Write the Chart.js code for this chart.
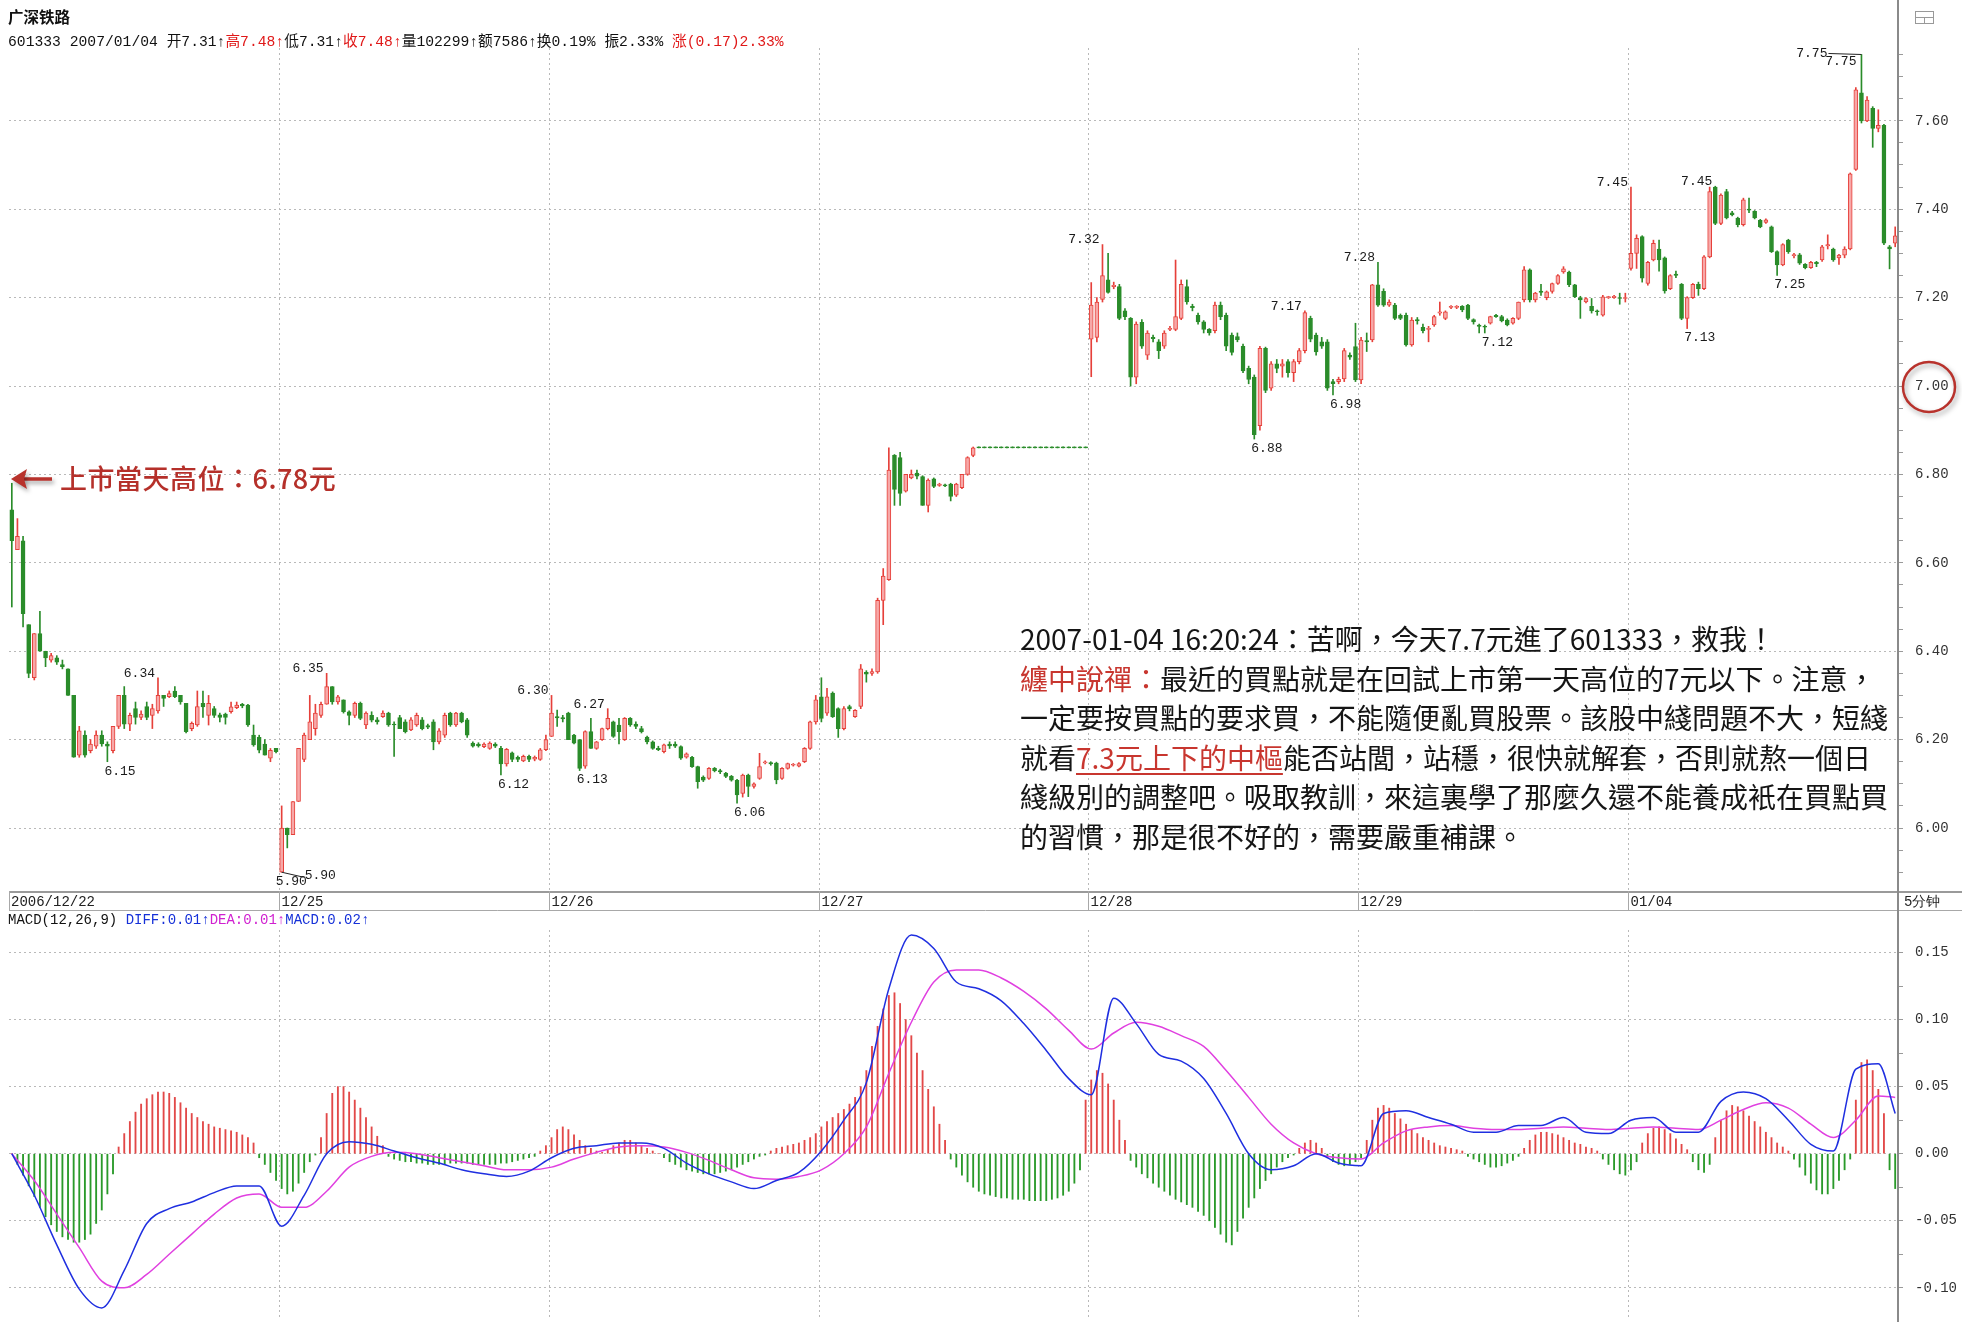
<!DOCTYPE html>
<html><head><meta charset="utf-8">
<script src="https://cdn.jsdelivr.net/npm/chart.js@4.4.0/dist/chart.umd.min.js"></script>
<style>
html,body{margin:0;padding:0;background:#fff;width:1962px;height:1322px;overflow:hidden;position:relative;}
canvas{position:absolute;left:0;}
#main{top:0;}
#macd{top:911px;}
.abs{position:absolute;white-space:nowrap;}
#hdr1{left:8px;top:5px;font:bold 15.5px "Noto Sans CJK SC";color:#111;}
#hdr2{left:8px;top:29px;font:14.7px "Liberation Mono","Noto Sans CJK SC",monospace;color:#111;}
#macdLeg{left:8px;top:912px;font:14px "Liberation Mono","Noto Sans CJK SC",monospace;color:#111;}
.r{color:#e01818;}
.b{color:#1530d8;}
.m{color:#d020d0;}
#listHigh{left:60px;top:458px;font:500 27px "Noto Sans CJK TC";color:#b5302a;letter-spacing:0.5px;}
#note{left:1020px;top:619px;font:28px "Noto Sans CJK TC";line-height:39.6px;color:#151515;}
.nr{color:#c8362f;}
.nu{color:#c8362f;text-decoration:underline;text-underline-offset:4px;}
</style></head>
<body>
<canvas id="main" width="1962" height="911"></canvas>
<canvas id="macd" width="1962" height="411"></canvas>
<div id="hdr1" class="abs">广深铁路</div>
<div id="hdr2" class="abs">601333 2007/01/04 开7.31↑<span class="r">高7.48↑</span>低7.31↑<span class="r">收7.48↑</span>量102299↑额7586↑换0.19% 振2.33% <span class="r">涨(0.17)2.33%</span></div>
<div id="macdLeg" class="abs">MACD(12,26,9) <span class="b">DIFF:0.01↑</span><span class="m">DEA:0.01↑</span><span class="b">MACD:0.02↑</span></div>
<div id="listHigh" class="abs">上市當天高位：6.78元</div>
<div id="note" class="abs">
<div>2007-01-04 16:20:24：苦啊，今天7.7元進了601333，救我！</div>
<div><span class="nr">纏中說禪：</span>最近的買點就是在回試上市第一天高位的7元以下。注意，</div>
<div>一定要按買點的要求買，不能隨便亂買股票。該股中綫問題不大，短綫</div>
<div>就看<span class="nu">7.3元上下的中樞</span>能否站閭，站穩，很快就解套，否則就熬一個日</div>
<div>綫級別的調整吧。吸取教訓，來這裏學了那麼久還不能養成衹在買點買</div>
<div>的習慣，那是很不好的，需要嚴重補課。</div>
</div>
<script>
// ---------------- data ----------------
const dayLabels = ['2006/12/22','12/25','12/26','12/27','12/28','12/29','01/04'];
const barsPerDay = 48;
const priceTicks = [5.90,5.95,6.00,6.05,6.10,6.15,6.20,6.25,6.30,6.35,6.40,6.45,6.50,6.55,6.60,6.65,6.70,6.75,6.80,6.85,6.90,6.95,7.00,7.05,7.10,7.15,7.20,7.25,7.30,7.35,7.40,7.45,7.50,7.55,7.60,7.65,7.70,7.75];
const macdTicks = [-0.10,-0.075,-0.05,-0.025,0.00,0.025,0.05,0.075,0.10,0.125,0.15];

const opens = [
6.72,6.63,6.65,6.46,6.34,6.44,6.40,6.38,6.385,6.37,6.36,6.30,6.165,6.21,6.175,6.185,6.21,6.19,6.175,6.23,6.30,6.235,6.27,6.25,6.275,6.255,6.265,6.30,6.297,6.31,6.30,6.282,6.225,6.233,6.282,6.255,6.27,6.256,6.258,6.263,6.272,6.28,6.278,6.21,6.205,6.19,6.158,6.18,
5.90,6.00,5.985,6.06,6.155,6.20,6.225,6.255,6.28,6.32,6.285,6.29,6.263,6.255,6.282,6.233,6.255,6.245,6.252,6.26,6.235,6.25,6.24,6.222,6.233,6.245,6.232,6.24,6.195,6.21,6.26,6.233,6.26,6.245,6.192,6.19,6.184,6.18,6.19,6.18,6.145,6.17,6.16,6.152,6.162,6.156,6.155,6.177,
6.207,6.252,6.25,6.26,6.21,6.20,6.14,6.218,6.18,6.20,6.225,6.24,6.233,6.20,6.248,6.235,6.225,6.206,6.195,6.18,6.173,6.19,6.19,6.184,6.16,6.16,6.139,6.115,6.112,6.135,6.13,6.124,6.117,6.108,6.078,6.12,6.094,6.112,6.147,6.148,6.147,6.112,6.135,6.142,6.14,6.15,6.18,6.24,
6.297,6.26,6.305,6.27,6.225,6.275,6.252,6.275,6.352,6.35,6.353,6.515,6.562,6.843,6.838,6.762,6.792,6.803,6.795,6.73,6.79,6.775,6.776,6.778,6.753,6.77,6.80,6.843,6.86,6.86,6.86,6.86,6.86,6.86,6.86,6.86,6.86,6.86,6.86,6.86,6.86,6.86,6.86,6.86,6.86,6.86,6.86,6.86,
7.106,7.11,7.196,7.24,7.225,7.225,7.17,7.153,7.02,7.144,7.07,7.11,7.10,7.09,7.128,7.128,7.153,7.225,7.18,7.16,7.145,7.128,7.125,7.183,7.16,7.115,7.112,7.09,7.04,7.02,6.91,7.085,6.995,7.05,7.045,7.055,7.03,7.055,7.08,7.153,7.115,7.10,7.10,7.01,7.01,7.016,7.07,7.089,
7.014,7.103,7.104,7.229,7.214,7.183,7.183,7.16,7.16,7.093,7.15,7.133,7.128,7.138,7.165,7.153,7.178,7.178,7.18,7.183,7.15,7.138,7.135,7.142,7.16,7.157,7.149,7.142,7.153,7.195,7.263,7.195,7.215,7.20,7.214,7.232,7.258,7.258,7.229,7.20,7.19,7.18,7.17,7.16,7.2,7.2,7.2,7.198,
7.266,7.30,7.338,7.232,7.285,7.31,7.29,7.22,7.253,7.23,7.153,7.20,7.23,7.22,7.292,7.45,7.368,7.44,7.392,7.38,7.365,7.40,7.395,7.375,7.37,7.36,7.304,7.274,7.33,7.295,7.297,7.275,7.268,7.28,7.285,7.317,7.31,7.29,7.296,7.31,7.49,7.663,7.60,7.628,7.583,7.59,7.315,7.323];
const highs = [
6.78,6.70,6.66,6.46,6.44,6.49,6.40,6.395,6.39,6.38,6.36,6.30,6.23,6.22,6.20,6.22,6.22,6.195,6.23,6.30,6.32,6.26,6.285,6.265,6.285,6.28,6.34,6.30,6.31,6.32,6.30,6.282,6.24,6.31,6.31,6.30,6.275,6.26,6.26,6.285,6.285,6.282,6.28,6.233,6.21,6.20,6.18,6.18,
6.05,6.00,6.06,6.18,6.215,6.30,6.28,6.285,6.35,6.32,6.30,6.29,6.265,6.285,6.285,6.263,6.263,6.25,6.265,6.262,6.24,6.255,6.245,6.25,6.26,6.25,6.235,6.245,6.225,6.26,6.262,6.262,6.262,6.248,6.195,6.193,6.193,6.195,6.193,6.185,6.18,6.172,6.163,6.165,6.165,6.163,6.18,6.21,
6.30,6.267,6.255,6.262,6.212,6.20,6.22,6.248,6.196,6.226,6.27,6.242,6.248,6.25,6.25,6.24,6.23,6.208,6.197,6.185,6.19,6.195,6.195,6.186,6.17,6.162,6.14,6.118,6.137,6.137,6.133,6.126,6.119,6.11,6.122,6.122,6.102,6.169,6.152,6.15,6.149,6.137,6.147,6.146,6.148,6.182,6.242,6.30,
6.34,6.316,6.308,6.272,6.275,6.278,6.268,6.37,6.356,6.36,6.52,6.587,6.86,6.845,6.85,6.80,6.81,6.81,6.797,6.79,6.792,6.78,6.778,6.78,6.78,6.80,6.84,6.862,6.86,6.86,6.86,6.86,6.86,6.86,6.86,6.86,6.86,6.86,6.86,6.86,6.86,6.86,6.86,6.86,6.86,6.86,6.86,6.86,
7.234,7.20,7.32,7.30,7.235,7.23,7.175,7.155,7.145,7.15,7.125,7.115,7.105,7.125,7.135,7.285,7.24,7.24,7.185,7.165,7.148,7.13,7.19,7.19,7.165,7.12,7.12,7.095,7.045,7.025,7.09,7.088,7.055,7.06,7.06,7.06,7.06,7.085,7.17,7.158,7.12,7.11,7.105,7.015,7.02,7.085,7.075,7.142,
7.11,7.12,7.23,7.28,7.22,7.195,7.187,7.163,7.165,7.155,7.155,7.14,7.135,7.16,7.19,7.17,7.182,7.182,7.182,7.185,7.152,7.14,7.138,7.158,7.162,7.16,7.152,7.155,7.19,7.27,7.265,7.212,7.23,7.215,7.233,7.252,7.27,7.26,7.23,7.203,7.2,7.198,7.172,7.205,7.203,7.205,7.21,7.21,
7.45,7.342,7.34,7.282,7.33,7.33,7.292,7.252,7.26,7.232,7.202,7.232,7.235,7.295,7.45,7.452,7.435,7.445,7.395,7.382,7.425,7.425,7.397,7.377,7.378,7.362,7.306,7.322,7.332,7.30,7.30,7.277,7.282,7.282,7.318,7.342,7.312,7.298,7.315,7.482,7.675,7.75,7.655,7.632,7.625,7.592,7.318,7.36];
const lows = [
6.50,6.63,6.455,6.34,6.335,6.40,6.365,6.375,6.37,6.36,6.30,6.16,6.16,6.16,6.17,6.18,6.185,6.15,6.17,6.225,6.225,6.22,6.235,6.245,6.245,6.225,6.26,6.275,6.295,6.295,6.28,6.215,6.22,6.23,6.25,6.233,6.25,6.24,6.235,6.26,6.27,6.272,6.23,6.185,6.17,6.165,6.15,6.17,
5.90,5.955,5.985,6.06,6.15,6.20,6.21,6.25,6.28,6.28,6.28,6.26,6.233,6.25,6.245,6.225,6.24,6.235,6.25,6.23,6.162,6.225,6.215,6.22,6.23,6.222,6.225,6.177,6.19,6.205,6.23,6.23,6.238,6.205,6.183,6.183,6.182,6.178,6.182,6.12,6.14,6.15,6.15,6.15,6.15,6.152,6.153,6.175,
6.207,6.23,6.24,6.20,6.19,6.13,6.135,6.18,6.178,6.198,6.222,6.205,6.19,6.198,6.23,6.225,6.215,6.19,6.178,6.175,6.17,6.18,6.182,6.155,6.158,6.137,6.09,6.105,6.11,6.127,6.123,6.114,6.106,6.056,6.07,6.071,6.09,6.11,6.145,6.142,6.10,6.11,6.133,6.14,6.138,6.148,6.178,6.235,
6.24,6.255,6.25,6.205,6.222,6.265,6.25,6.27,6.33,6.345,6.35,6.46,6.56,6.73,6.73,6.76,6.79,6.79,6.73,6.715,6.77,6.773,6.772,6.74,6.75,6.768,6.798,6.84,6.86,6.86,6.86,6.86,6.86,6.86,6.86,6.86,6.86,6.86,6.86,6.86,6.86,6.86,6.86,6.86,6.86,6.86,6.86,6.86,
7.021,7.10,7.19,7.21,7.22,7.15,7.15,7.00,7.005,7.085,7.06,7.10,7.062,7.085,7.125,7.125,7.15,7.185,7.17,7.14,7.12,7.115,7.12,7.15,7.08,7.07,7.10,7.03,7.005,6.88,6.90,6.985,6.99,7.03,7.02,7.02,7.01,7.05,7.075,7.10,7.07,7.085,6.99,6.98,7.005,7.01,7.06,7.01,
7.005,7.078,7.10,7.18,7.18,7.18,7.15,7.15,7.09,7.09,7.14,7.12,7.10,7.135,7.16,7.15,7.175,7.175,7.168,7.15,7.14,7.12,7.12,7.14,7.155,7.145,7.136,7.14,7.15,7.19,7.19,7.19,7.205,7.195,7.21,7.23,7.255,7.225,7.20,7.153,7.188,7.165,7.16,7.158,7.198,7.198,7.185,7.19,
7.262,7.266,7.235,7.228,7.283,7.26,7.21,7.218,7.245,7.15,7.13,7.198,7.205,7.218,7.29,7.365,7.365,7.378,7.385,7.36,7.362,7.392,7.378,7.358,7.368,7.302,7.25,7.272,7.30,7.29,7.275,7.265,7.266,7.27,7.282,7.31,7.282,7.275,7.29,7.308,7.488,7.595,7.598,7.54,7.575,7.32,7.265,7.315];
const closes = [
6.65,6.66,6.485,6.35,6.44,6.40,6.385,6.39,6.375,6.365,6.30,6.16,6.22,6.165,6.19,6.21,6.19,6.185,6.23,6.30,6.235,6.255,6.25,6.258,6.25,6.27,6.30,6.293,6.304,6.297,6.285,6.218,6.237,6.275,6.274,6.282,6.255,6.25,6.25,6.274,6.278,6.276,6.233,6.188,6.176,6.165,6.176,6.173,
6.00,5.985,6.06,6.18,6.21,6.24,6.26,6.28,6.32,6.285,6.297,6.263,6.255,6.282,6.248,6.26,6.244,6.24,6.26,6.233,6.233,6.225,6.218,6.245,6.255,6.225,6.228,6.195,6.22,6.255,6.233,6.26,6.24,6.21,6.185,6.186,6.19,6.192,6.185,6.145,6.178,6.155,6.155,6.162,6.155,6.16,6.177,6.20,
6.26,6.249,6.247,6.20,6.192,6.135,6.218,6.18,6.195,6.225,6.248,6.207,6.218,6.248,6.233,6.23,6.218,6.195,6.18,6.177,6.188,6.186,6.185,6.158,6.168,6.139,6.105,6.108,6.135,6.13,6.127,6.117,6.108,6.075,6.12,6.094,6.10,6.139,6.15,6.145,6.109,6.135,6.146,6.144,6.146,6.18,6.24,6.29,
6.248,6.297,6.252,6.225,6.27,6.27,6.266,6.36,6.348,6.354,6.515,6.57,6.81,6.766,6.757,6.80,6.80,6.796,6.73,6.787,6.773,6.778,6.774,6.75,6.778,6.80,6.838,6.86,6.86,6.86,6.86,6.86,6.86,6.86,6.86,6.86,6.86,6.86,6.86,6.86,6.86,6.86,6.86,6.86,6.86,6.86,6.86,6.86,
7.183,7.19,7.25,7.212,7.228,7.153,7.157,7.02,7.14,7.09,7.12,7.107,7.08,7.12,7.13,7.157,7.23,7.19,7.177,7.145,7.128,7.12,7.183,7.157,7.09,7.076,7.105,7.034,7.015,6.89,7.085,6.99,7.05,7.04,7.05,7.03,7.055,7.08,7.166,7.106,7.077,7.09,6.995,7.005,7.015,7.08,7.065,7.014,
7.104,7.10,7.229,7.183,7.183,7.19,7.153,7.153,7.093,7.149,7.147,7.125,7.13,7.157,7.168,7.168,7.18,7.18,7.172,7.153,7.145,7.135,7.133,7.157,7.157,7.147,7.138,7.153,7.19,7.263,7.195,7.21,7.212,7.213,7.232,7.25,7.265,7.229,7.202,7.195,7.198,7.17,7.168,7.202,7.2,7.203,7.198,7.2,
7.30,7.334,7.244,7.28,7.323,7.285,7.215,7.25,7.25,7.153,7.20,7.23,7.22,7.292,7.44,7.368,7.432,7.38,7.387,7.365,7.421,7.398,7.38,7.36,7.376,7.304,7.274,7.32,7.304,7.297,7.278,7.268,7.28,7.277,7.315,7.32,7.285,7.296,7.31,7.48,7.67,7.60,7.647,7.583,7.59,7.323,7.31,7.34];

const macdHist = [
0,-0.008,-0.016,-0.024,-0.032,-0.040,-0.047,-0.053,-0.058,-0.062,-0.064,-0.066,-0.066,-0.064,-0.060,-0.052,-0.042,-0.030,-0.015,
0.005,0.015,0.024,0.031,0.037,0.041,0.044,0.046,0.046,0.045,0.042,0.038,0.034,0.030,0.027,0.024,0.022,0.020,0.019,0.018,0.017,0.016,0.014,0.012,0.008,
-0.003,-0.008,-0.014,-0.020,-0.026,-0.030,-0.028,-0.022,-0.014,-0.006,-0.001,
0.012,0.030,0.045,0.050,0.050,0.046,0.040,0.034,0.027,0.020,0.013,0.006,
-0.002,-0.004,-0.005,-0.006,-0.006,-0.007,-0.007,-0.008,-0.008,-0.008,-0.008,-0.007,-0.007,-0.007,-0.007,-0.008,-0.008,-0.008,-0.008,-0.008,-0.007,-0.007,-0.006,-0.005,-0.004,-0.003,-0.002,0.002,0.006,
0.012,0.018,0.020,0.018,0.014,0.010,0.006,0.004,0.002,0.001,
0.003,0.006,0.008,0.010,0.010,0.008,0.006,0.004,0.002,0.000,
-0.003,-0.006,-0.008,-0.010,-0.012,-0.013,-0.014,-0.015,-0.015,-0.015,-0.014,-0.013,-0.012,-0.010,-0.008,-0.006,-0.004,-0.002,-0.001,
0.002,0.004,0.005,0.006,0.007,0.008,0.010,0.012,0.015,0.020,0.024,0.027,0.030,0.033,0.037,0.042,0.050,0.062,0.080,0.095,0.108,0.118,0.120,0.112,0.100,0.088,0.075,0.062,0.048,0.035,0.022,0.010,
-0.004,-0.010,-0.016,-0.021,-0.025,-0.028,-0.030,-0.031,-0.032,-0.033,-0.033,-0.034,-0.034,-0.034,-0.035,-0.035,-0.035,-0.035,-0.034,-0.033,-0.031,-0.028,-0.022,-0.012,
0.040,0.055,0.062,0.060,0.052,0.040,0.025,0.010,
-0.005,-0.010,-0.015,-0.018,-0.022,-0.025,-0.028,-0.031,-0.034,-0.036,-0.038,-0.040,-0.043,-0.046,-0.050,-0.055,-0.060,-0.066,-0.068,-0.058,-0.048,-0.040,-0.033,-0.026,-0.020,-0.015,-0.010,-0.006,-0.003,-0.001,
0.004,0.008,0.010,0.008,0.004,
-0.003,-0.006,-0.008,-0.009,-0.008,-0.006,-0.003,
0.010,0.025,0.034,0.036,0.034,0.030,0.026,0.022,0.018,0.015,0.012,0.010,0.008,0.006,0.005,0.004,0.003,0.002,
-0.002,-0.004,-0.006,-0.008,-0.010,-0.010,-0.009,-0.007,-0.005,-0.002,
0.004,0.010,0.014,0.016,0.016,0.015,0.014,0.012,0.010,0.008,0.007,0.005,0.004,0.002,
-0.004,-0.008,-0.012,-0.015,-0.016,-0.012,-0.006,
0.008,0.015,0.019,0.020,0.018,0.015,0.011,0.007,0.003,
-0.006,-0.012,-0.014,-0.008,
0.012,0.025,0.032,0.036,0.035,0.032,0.028,0.024,0.020,0.016,0.012,0.008,0.005,0.002,
-0.004,-0.010,-0.016,-0.022,-0.027,-0.030,-0.030,-0.026,-0.020,-0.012,-0.004,
0.040,0.068,0.070,0.062,0.048,0.030,
-0.012,-0.026];

const lineIdx = [0,4,8,12,16,20,24,28,32,36,40,44,48,52,56,60,64,68,72,76,80,84,88,92,96,100,104,108,112,116,120,124,128,132,136,140,144,148,152,156,160,164,168,172,176,180,184,188,192,196,200,204,208,212,216,220,224,228,232,236,240,244,248,252,256,260,264,268,272,276,280,284,288,292,296,300,304,308,312,316,320,324,328,332,335];
const diffVals = [
0.000,-0.031,-0.068,-0.101,-0.115,-0.087,-0.052,-0.041,-0.036,-0.029,
-0.024,-0.024,-0.054,-0.031,0.000,0.009,0.007,0.002,-0.003,-0.007,
-0.012,-0.015,-0.017,-0.013,-0.003,0.004,0.006,0.008,0.008,0.004,
-0.007,-0.015,-0.021,-0.026,-0.020,-0.014,0.002,0.025,0.053,0.123,
0.163,0.153,0.128,0.123,0.114,0.097,0.077,0.056,0.044,0.116,
0.097,0.074,0.069,0.056,0.030,0.000,-0.012,-0.009,0.000,-0.007,
-0.009,0.030,0.032,0.027,0.022,0.016,0.016,0.021,0.021,0.027,
0.016,0.015,0.025,0.027,0.016,0.016,0.039,0.046,0.041,0.025,
0.007,0.002,0.063,0.067,0.030];
const deaVals = [
0.000,-0.020,-0.045,-0.070,-0.095,-0.100,-0.090,-0.075,-0.060,-0.045,
-0.033,-0.030,-0.040,-0.040,-0.028,-0.010,-0.002,0.001,0.000,-0.003,
-0.006,-0.009,-0.012,-0.012,-0.010,-0.004,0.001,0.005,0.006,0.005,
0.001,-0.005,-0.012,-0.018,-0.019,-0.017,-0.012,0.000,0.020,0.060,
0.098,0.128,0.137,0.137,0.131,0.121,0.108,0.092,0.078,0.090,
0.098,0.095,0.088,0.080,0.062,0.042,0.022,0.008,0.000,-0.003,
-0.004,0.008,0.017,0.020,0.021,0.019,0.018,0.018,0.019,0.020,
0.019,0.018,0.019,0.020,0.019,0.018,0.025,0.033,0.038,0.034,
0.022,0.012,0.025,0.043,0.042];

const highMarks = [26,56,96,106,194,230,243,288,303];
const lowMarks = [17,87,101,129,221,235,262,298,314];
const doubleLowMark = 48;   // 5.90 shown twice
const doubleHighMark = 329; // 7.75 shown twice

// sanity
[opens,highs,lows,closes,macdHist].forEach((a,k)=>{ if(a.length!==336) throw new Error('array '+k+' length '+a.length); });
if (diffVals.length!==lineIdx.length || deaVals.length!==lineIdx.length) throw new Error('line len');

// ---------------- styles ----------------
const UP_FILL='#f7a8a8', UP_LINE='#e6403a', DOWN='#2a8c2a';
const GRID='#b9b9b9', AXIS='#8a8a8a';
const MONO='"Liberation Mono","DejaVu Sans Mono",monospace';
const isUp = i => closes[i] > opens[i] || (closes[i] === opens[i] && highs[i] !== lows[i]);
const isMajorPrice = v => Math.abs(v*5 - Math.round(v*5)) < 1e-6;
const isMajorMacd = v => Math.abs(v*20 - Math.round(v*20)) < 1e-6;
const fmt = v => (Math.abs(v)<1e-9?0:v).toFixed(2);
const fitAxis = s => { s.width = 64; s.paddingTop = 0; s.paddingBottom = 0; };

function dashedV(ctx, x, y1, y2){
  ctx.save(); ctx.strokeStyle=GRID; ctx.lineWidth=1; ctx.setLineDash([2,3]);
  ctx.beginPath(); ctx.moveTo(x,y1); ctx.lineTo(x,y2); ctx.stroke(); ctx.restore();
}
function line(ctx,x1,y1,x2,y2,c,w){ ctx.save(); ctx.strokeStyle=c; ctx.lineWidth=w||1; ctx.beginPath(); ctx.moveTo(x1,y1); ctx.lineTo(x2,y2); ctx.stroke(); ctx.restore(); }

const dayX = (xs, d) => Math.round(xs.getPixelForValue(d*barsPerDay - 0.5)) + 0.5;

const mainDecor = {
  id:'mainDecor',
  beforeDatasetsDraw(chart){
    const {ctx, chartArea:a, scales:{x}} = chart;
    for (let d=1; d<dayLabels.length; d++) dashedV(ctx, dayX(x,d), a.top, a.bottom);
  },
  afterDraw(chart){
    const {ctx, chartArea:a, scales:{x,y}} = chart;
    ctx.save();
    ctx.font = '13px '+MONO; ctx.fillStyle='#1a1a1a';
    highMarks.forEach(i=>{
      ctx.textAlign='right'; ctx.textBaseline='bottom';
      ctx.fillText(highs[i].toFixed(2), x.getPixelForValue(i)-3, y.getPixelForValue(highs[i])+2);
    });
    lowMarks.forEach(i=>{
      ctx.textAlign='left'; ctx.textBaseline='top';
      ctx.fillText(lows[i].toFixed(2), x.getPixelForValue(i)-3, y.getPixelForValue(lows[i])+3);
    });
    { const px=x.getPixelForValue(doubleLowMark), py=y.getPixelForValue(lows[doubleLowMark]);
      line(ctx, px, py, px+22, py+5, '#222', 1);
      ctx.textAlign='left'; ctx.textBaseline='top';
      ctx.fillText(lows[doubleLowMark].toFixed(2), px-6, py+3);
      ctx.fillText(lows[doubleLowMark].toFixed(2), px+23, py-3); }
    { const px=x.getPixelForValue(doubleHighMark), py=y.getPixelForValue(highs[doubleHighMark]);
      line(ctx, px-33, py-1, px, py, '#222', 1);
      ctx.textAlign='right'; ctx.textBaseline='bottom';
      ctx.fillText(highs[doubleHighMark].toFixed(2), px-34, py+6);
      ctx.textBaseline='top';
      ctx.fillText(highs[doubleHighMark].toFixed(2), px-5, py+1); }
    // date row
    line(ctx, a.left, a.bottom+1, 1962, a.bottom+1, '#9a9a9a', 2);
    line(ctx, a.left, 910.5, 1962, 910.5, '#a8a8a8', 1);
    line(ctx, a.left+0.5, a.bottom, a.left+0.5, 911, '#a8a8a8', 1);
    ctx.font='14px '+MONO; ctx.fillStyle='#222'; ctx.textAlign='left'; ctx.textBaseline='middle';
    dayLabels.forEach((lab,d)=>{
      const px = d===0 ? a.left : dayX(x,d);
      if (d>0) line(ctx, px, a.bottom, px, 911, '#a8a8a8', 1);
      ctx.fillText(lab, px+2, 902);
    });
    ctx.fillText('5分钟', 1904, 902);
    line(ctx, 1898, 0, 1898, 911, AXIS, 2);
    ctx.strokeStyle='#999'; ctx.lineWidth=1; ctx.strokeRect(1915.5,11.5,18,12); line(ctx,1915,17.5,1934,17.5,'#999',1); line(ctx,1924.5,17,1924.5,24,'#999',1);
    ctx.save();
    ctx.shadowColor='rgba(0,0,0,0.35)'; ctx.shadowBlur=4; ctx.shadowOffsetX=2; ctx.shadowOffsetY=3;
    ctx.strokeStyle='#b8322c'; ctx.fillStyle='#b8322c'; ctx.lineWidth=3.5;
    ctx.beginPath(); ctx.moveTo(52,479); ctx.lineTo(22,479); ctx.stroke();
    ctx.beginPath(); ctx.moveTo(11,479); ctx.lineTo(27,469); ctx.lineTo(24,479); ctx.lineTo(27,489); ctx.closePath(); ctx.fill();
    ctx.restore();
    ctx.save();
    ctx.shadowColor='rgba(0,0,0,0.35)'; ctx.shadowBlur=5; ctx.shadowOffsetX=2; ctx.shadowOffsetY=3;
    ctx.strokeStyle='#b8322c'; ctx.lineWidth=2.5;
    ctx.beginPath(); ctx.ellipse(1929, 387, 26, 25, 0, 0, Math.PI*2); ctx.stroke();
    ctx.restore();
    ctx.restore();
  }
};

new Chart(document.getElementById('main'), {
  type:'bar',
  data:{ datasets:[
    { label:'body', order:1, grouped:false,
      data: opens.map((o,i)=>({x:i, y:[o, closes[i]]})),
      backgroundColor: c => isUp(c.dataIndex)?UP_FILL:DOWN,
      borderColor: c => isUp(c.dataIndex)?UP_LINE:DOWN,
      borderWidth:1, borderSkipped:false, barThickness:4, minBarLength:1 },
    { label:'wick', order:2, grouped:false,
      data: lows.map((l,i)=>({x:i, y:[l, highs[i]]})),
      backgroundColor: c => isUp(c.dataIndex)?UP_LINE:DOWN,
      borderWidth:0, barThickness:1, minBarLength:1 }
  ]},
  options:{
    responsive:false, animation:false, events:[],
    layout:{ padding:{left:9, top:48, bottom:20, right:0} },
    plugins:{ legend:{display:false}, tooltip:{enabled:false} },
    scales:{
      x:{ type:'linear', min:-0.5, max:335.5, offset:false, display:false },
      y:{ position:'right', min:5.8575, max:7.7647,
          afterBuildTicks: ax => { ax.ticks = priceTicks.map(v=>({value:v})); },
          afterFit: fitAxis,
          ticks:{ autoSkip:false, padding:12, color:'#333', font:{family:MONO, size:14},
                  callback: v => isMajorPrice(v)? fmt(v) : '' },
          grid:{ color: c => isMajorPrice(c.tick.value)? GRID : 'rgba(0,0,0,0)', tickColor:'#9a9a9a', tickLength:5, lineWidth:1 },
          border:{ display:true, color:AXIS, width:2, dash:[2,3] } }
    }
  },
  plugins:[mainDecor]
});

const macdDecor = {
  id:'macdDecor',
  beforeDatasetsDraw(chart){
    const {ctx, chartArea:a, scales:{x}} = chart;
    for (let d=1; d<dayLabels.length; d++) dashedV(ctx, dayX(x,d), a.top, a.bottom);
  },
  afterDraw(chart){ line(chart.ctx, 1898, 0, 1898, 411, AXIS, 2); }
};

new Chart(document.getElementById('macd'), {
  type:'bar',
  data:{ datasets:[
    { type:'line', label:'DIFF', order:1, data: lineIdx.map((x,k)=>({x, y:diffVals[k]})),
      borderColor:'#1f2fe0', borderWidth:1.5, pointRadius:0, tension:0.35, cubicInterpolationMode:'monotone', fill:false },
    { type:'line', label:'DEA', order:2, data: lineIdx.map((x,k)=>({x, y:deaVals[k]})),
      borderColor:'#e040e0', borderWidth:1.5, pointRadius:0, tension:0.35, cubicInterpolationMode:'monotone', fill:false },
    { label:'MACD', order:3, grouped:false, data: macdHist.map((v,i)=>({x:i, y:v})),
      backgroundColor: c => macdHist[c.dataIndex] >= 0 ? '#e24848' : '#2a9a2a',
      barThickness:1.2, borderWidth:0 }
  ]},
  options:{
    responsive:false, animation:false, events:[],
    layout:{ padding:{left:9, top:19, bottom:4, right:0} },
    plugins:{ legend:{display:false}, tooltip:{enabled:false} },
    scales:{
      x:{ type:'linear', min:-0.5, max:335.5, offset:false, display:false },
      y:{ position:'right', min:-0.1225, max:0.1668,
          afterBuildTicks: ax => { ax.ticks = macdTicks.map(v=>({value:v})); },
          afterFit: fitAxis,
          ticks:{ autoSkip:false, padding:12, color:'#333', font:{family:MONO, size:14},
                  callback: v => isMajorMacd(v)? fmt(v) : '' },
          grid:{ color: c => isMajorMacd(c.tick.value)? GRID : 'rgba(0,0,0,0)', tickColor:'#9a9a9a', tickLength:5, lineWidth:1 },
          border:{ display:true, color:AXIS, width:2, dash:[2,3] } }
    }
  },
  plugins:[macdDecor]
});
</script>
</body></html>
